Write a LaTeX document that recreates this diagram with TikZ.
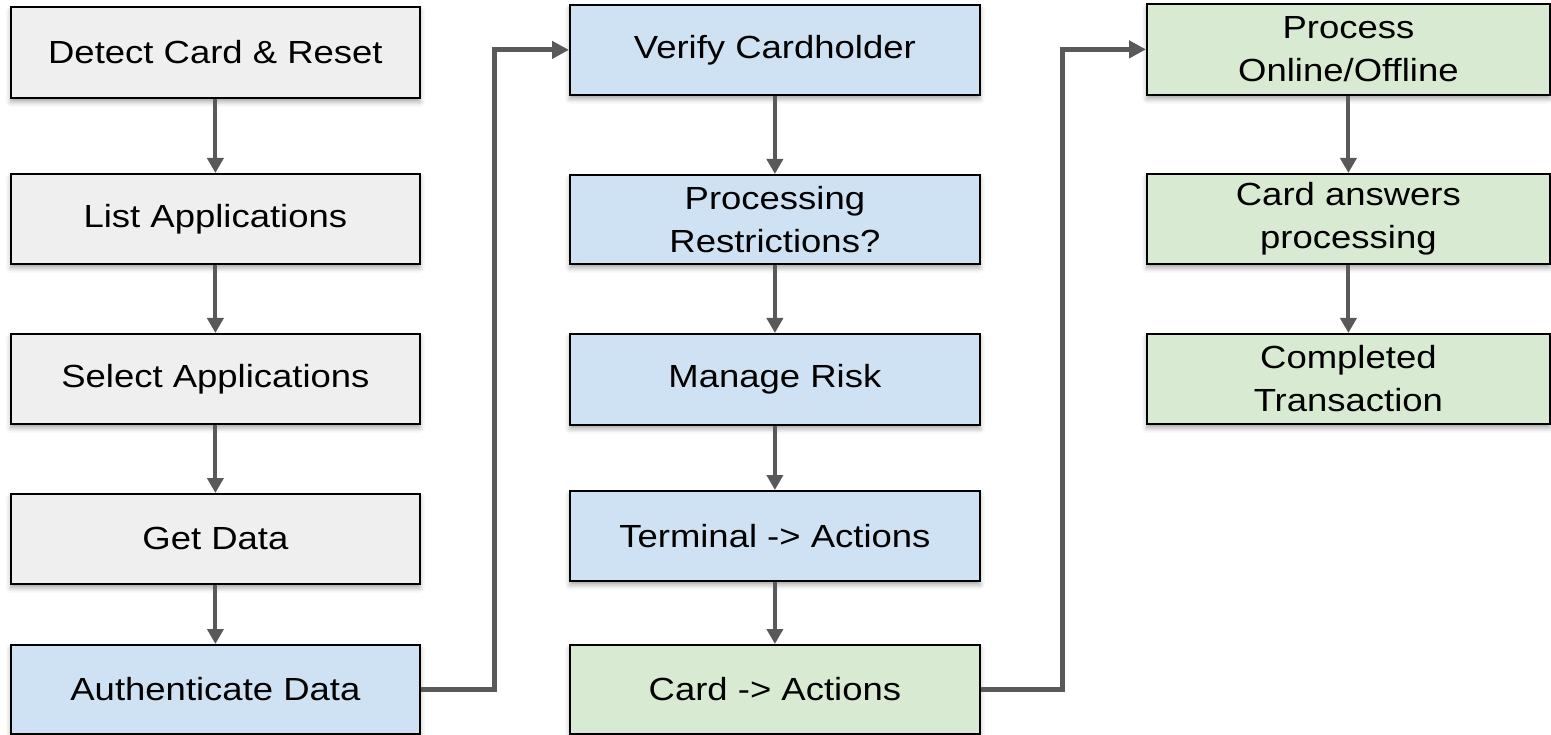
\documentclass[tikz,border=0pt]{standalone}
\usepackage{fontspec}
\setmainfont[FakeStretch=1.14]{Liberation Sans}
\usetikzlibrary{arrows.meta,shadows.blur}
\definecolor{greyfill}{HTML}{EFEFEF}
\definecolor{bluefill}{HTML}{CFE2F3}
\definecolor{greenfill}{HTML}{D9EAD3}
\definecolor{linkgrey}{HTML}{595959}
\tikzset{
  stepbox/.style={draw=black, line width=1.8pt, anchor=north west, align=center,
    inner sep=0pt, font=\fontsize{32}{43}\selectfont,
    blur shadow={shadow xshift=0pt, shadow yshift=-4pt, shadow blur radius=5pt, shadow opacity=35}},
  greybox/.style={stepbox, fill=greyfill},
  bluebox/.style={stepbox, fill=bluefill},
  greenbox/.style={stepbox, fill=greenfill},
  flow/.style={draw=linkgrey, line width=4pt, -{Triangle[width=16pt,length=15pt]}},
  jump/.style={draw=linkgrey, line width=5pt, -{Triangle[width=17pt,length=17pt]}}
}
\begin{document}
\begin{tikzpicture}[x=1pt,y=-1pt]
\useasboundingbox (0,0) rectangle (1551,735);

% first column
\node[greybox, minimum width=409pt, minimum height=91pt] (a1) at (10,6) {Detect Card \& Reset};
\node[greybox, minimum width=409pt, minimum height=90pt] (a2) at (10,173) {List Applications};
\node[greybox, minimum width=409pt, minimum height=90pt] (a3) at (10,333) {Select Applications};
\node[greybox, minimum width=409pt, minimum height=90pt] (a4) at (10,493) {Get Data};
\node[bluebox, minimum width=409pt, minimum height=89pt] (a5) at (10,644) {Authenticate Data};

% second column
\node[bluebox, minimum width=410pt, minimum height=90pt] (b1) at (569,4) {Verify Cardholder};
\node[bluebox, minimum width=410pt, minimum height=89pt] (b2) at (569,174) {Processing\\Restrictions?};
\node[bluebox, minimum width=410pt, minimum height=91pt] (b3) at (569,333) {Manage Risk};
\node[bluebox, minimum width=410pt, minimum height=90pt] (b4) at (569,490) {Terminal -> Actions};
\node[greenbox, minimum width=410pt, minimum height=89pt] (b5) at (569,644) {Card -> Actions};

% third column
\node[greenbox, minimum width=403pt, minimum height=91pt] (c1) at (1146,3) {Process\\Online/Offline};
\node[greenbox, minimum width=403pt, minimum height=90pt] (c2) at (1146,173) {Card answers\\processing};
\node[greenbox, minimum width=403pt, minimum height=90pt] (c3) at (1146,333) {Completed\\Transaction};

% vertical flow inside each column
\draw[flow] (a1.south) -- (a2.north);
\draw[flow] (a2.south) -- (a3.north);
\draw[flow] (a3.south) -- (a4.north);
\draw[flow] (a4.south) -- (a5.north);
\draw[flow] (b1.south) -- (b2.north);
\draw[flow] (b2.south) -- (b3.north);
\draw[flow] (b3.south) -- (b4.north);
\draw[flow] (b4.south) -- (b5.north);
\draw[flow] (c1.south) -- (c2.north);
\draw[flow] (c2.south) -- (c3.north);

% elbow links between columns
\coordinate (j1) at (494,0);
\coordinate (j2) at (1062,0);
\draw[jump] (a5.east) -- (a5.east -| j1) |- (b1.west);
\draw[jump] (b5.east) -- (b5.east -| j2) |- (c1.west);
\end{tikzpicture}
\end{document}
